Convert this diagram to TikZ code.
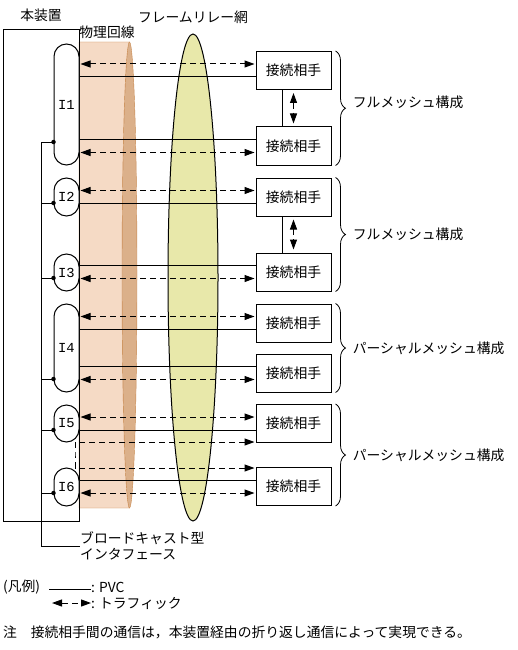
\documentclass[tikz,border=0pt]{standalone}
\usepackage{fontspec}
\setmainfont{Noto Sans CJK JP}
\newfontfamily\hwfont{Liberation Mono}
\usetikzlibrary{positioning,arrows.meta,calc,decorations.pathreplacing}
\definecolor{plight}{HTML}{F5DAC5}
\definecolor{pdark}{HTML}{DBB08A}
\definecolor{pedge}{HTML}{C8884E}
\definecolor{frnet}{HTML}{E8E8AA}
\newcommand{\diafont}{\fontsize{13.8}{16}\selectfont}
\tikzset{
  peer/.style={draw,line width=1pt,fill=white,minimum width=75pt,minimum height=38pt,inner sep=0pt},
  iface/.style={draw,line width=1pt,fill=white,rounded corners=12.5pt,minimum width=25pt,inner sep=0pt,font=\diafont\hwfont},
  jdot/.style={circle,fill,inner sep=0pt,minimum size=4.5pt},
  lbl/.style={inner sep=0pt},
  pvc/.style={line width=1pt},
  traffic/.style={line width=1pt,dash pattern=on 6pt off 4pt,{Triangle[length=10pt,width=7pt]}-{Triangle[length=10pt,width=7pt]},shorten <=1pt,shorten >=1pt},
  grp/.style={line width=0.8pt,decorate,decoration={brace,amplitude=10pt}},
}
\begin{document}
\begin{tikzpicture}[x=1pt,y=-1pt,font=\diafont]
\useasboundingbox (0,0) rectangle (518,650);
% frame relay network, physical line
\draw[line width=1pt,fill=frnet] (193,277.5) ellipse [x radius=25pt,y radius=243.5pt];
\filldraw[fill=pdark,draw=pedge] (129.5,275) ellipse [x radius=7.5pt,y radius=233pt];
\filldraw[fill=plight,draw=pedge] (79,42) -- (129.5,42) arc[start angle=90,end angle=270,x radius=7.5pt,y radius=233pt] -- (79,508) -- cycle;
\node[lbl] (fr) at (193,17) {フレームリレー網};
\node[lbl] (pl) at (107,32) {物理回線};
% device and its interfaces
\node[draw,line width=1pt,minimum width=76pt,minimum height=492pt,inner sep=0pt,anchor=north west] (dev) at (3,29) {};
\node[lbl] (devl) at (41,15) {本装置};
\node[iface,minimum height=121pt] (i1) at (66.5,104.5) {I1};
\node[iface,minimum height=38pt] (i2) at (66.5,197) {I2};
\node[iface,minimum height=37pt] (i3) at (66.5,272.5) {I3};
\node[iface,minimum height=88pt] (i4) at (66.5,348) {I4};
\node[iface,minimum height=37pt] (i5) at (66.5,423.5) {I5};
\node[iface,minimum height=38pt] (i6) at (66.5,487) {I6};
\node[jdot] (d1) at (i1.west |- 0,142) {};
\node[jdot] (d2) at (i2.west |- 0,203) {};
\node[jdot] (d3) at (i3.west |- 0,278) {};
\node[jdot] (d4) at (i4.west |- 0,379) {};
\node[jdot] (d5) at (i5.west |- 0,430) {};
\node[jdot] (d6) at (i6.west |- 0,493) {};
\coordinate (bk) at (41,546);
\node[lbl,anchor=west,align=left] (bc) at (80,546) {ブロードキャスト型\\インタフェース};
\draw[pvc] (d1.center) -| (bk) -- (bc.west);
\foreach \d in {d2,d3,d4,d5,d6}{\draw[pvc] (\d.center) -- (\d.center -| bk);}
% peers
\node[peer] (p1) at (293.5,70.5) {接続相手};
\node[peer] (p2) at (293.5,146) {接続相手};
\node[peer] (p3) at (293.5,197) {接続相手};
\node[peer] (p4) at (293.5,272) {接続相手};
\node[peer] (p5) at (293.5,323) {接続相手};
\node[peer] (p6) at (293.5,373) {接続相手};
\node[peer] (p7) at (293.5,423.5) {接続相手};
\node[peer] (p8) at (293.5,486.5) {接続相手};
\foreach \p/\i/\s/\t in {p1/i1/6.5/-6.5,p2/i1/-6.5/6.5,p3/i2/6.5/-6.5,p4/i3/-6.5/6.5,p5/i4/6.5/-6.5,p6/i4/-6.5/6.5,p7/i5/6.5/-6.5,p8/i6/-6.5/6.5}{
  \draw[pvc] (\i.east |- \p.west) ++(0,\s) -- ($(\p.west)+(0,\s)$);
  \draw[traffic] (\i.east |- \p.west) ++(0,\t) -- ($(\p.west)+(0,\t)$);
}
\coordinate (lp) at (75,455);
\draw[traffic] ($(p7.south west)+(0,-1)$) -| (lp) |- ($(p8.north west)+(0,1)$);
\foreach \a/\b in {p1/p2,p3/p4}{
  \draw[pvc] ($(\a.south)+(-11.5,0)$) -- ($(\b.north)+(-11.5,0)$);
  \draw[traffic,shorten <=3pt,shorten >=3pt] (\a.south) -- (\b.north);
}
% mesh groups
\draw[grp] ($(p1.north east)+(4,0)$) -- ($(p2.south east)+(4,0)$) node[lbl,midway,right=17pt,yshift=6pt] (m1) {フルメッシュ構成};
\draw[grp] ($(p3.north east)+(4,0)$) -- ($(p4.south east)+(4,0)$) node[lbl,midway,right=17pt] (m2) {フルメッシュ構成};
\draw[grp] ($(p5.north east)+(4,0)$) -- ($(p6.south east)+(4,0)$) node[lbl,midway,right=17pt] (m3) {パーシャルメッシュ構成};
\draw[grp] ($(p7.north east)+(4,0)$) -- ($(p8.south east)+(4,0)$) node[lbl,midway,right=17pt] (m4) {パーシャルメッシュ構成};
% legend, note
\node[lbl,anchor=west] (lgk) at (3,587) {(凡例)};
\node[lbl,anchor=west] (lgpvc) at (91,587) {: PVC};
\coordinate (lgs) at (49,589);
\draw[pvc] (lgs) -- (lgs -| lgpvc.west);
\node[lbl,anchor=west] (lgtr) at (91,603) {: トラフィック};
\coordinate (lgt) at (52,603);
\draw[traffic,shorten <=0pt,shorten >=0pt] (lgt) -- (lgt -| lgtr.west);
\node[lbl,anchor=west] (nt) at (3,632) {注　接続相手間の通信は，本装置経由の折り返し通信によって実現できる。};
\end{tikzpicture}
\end{document}
